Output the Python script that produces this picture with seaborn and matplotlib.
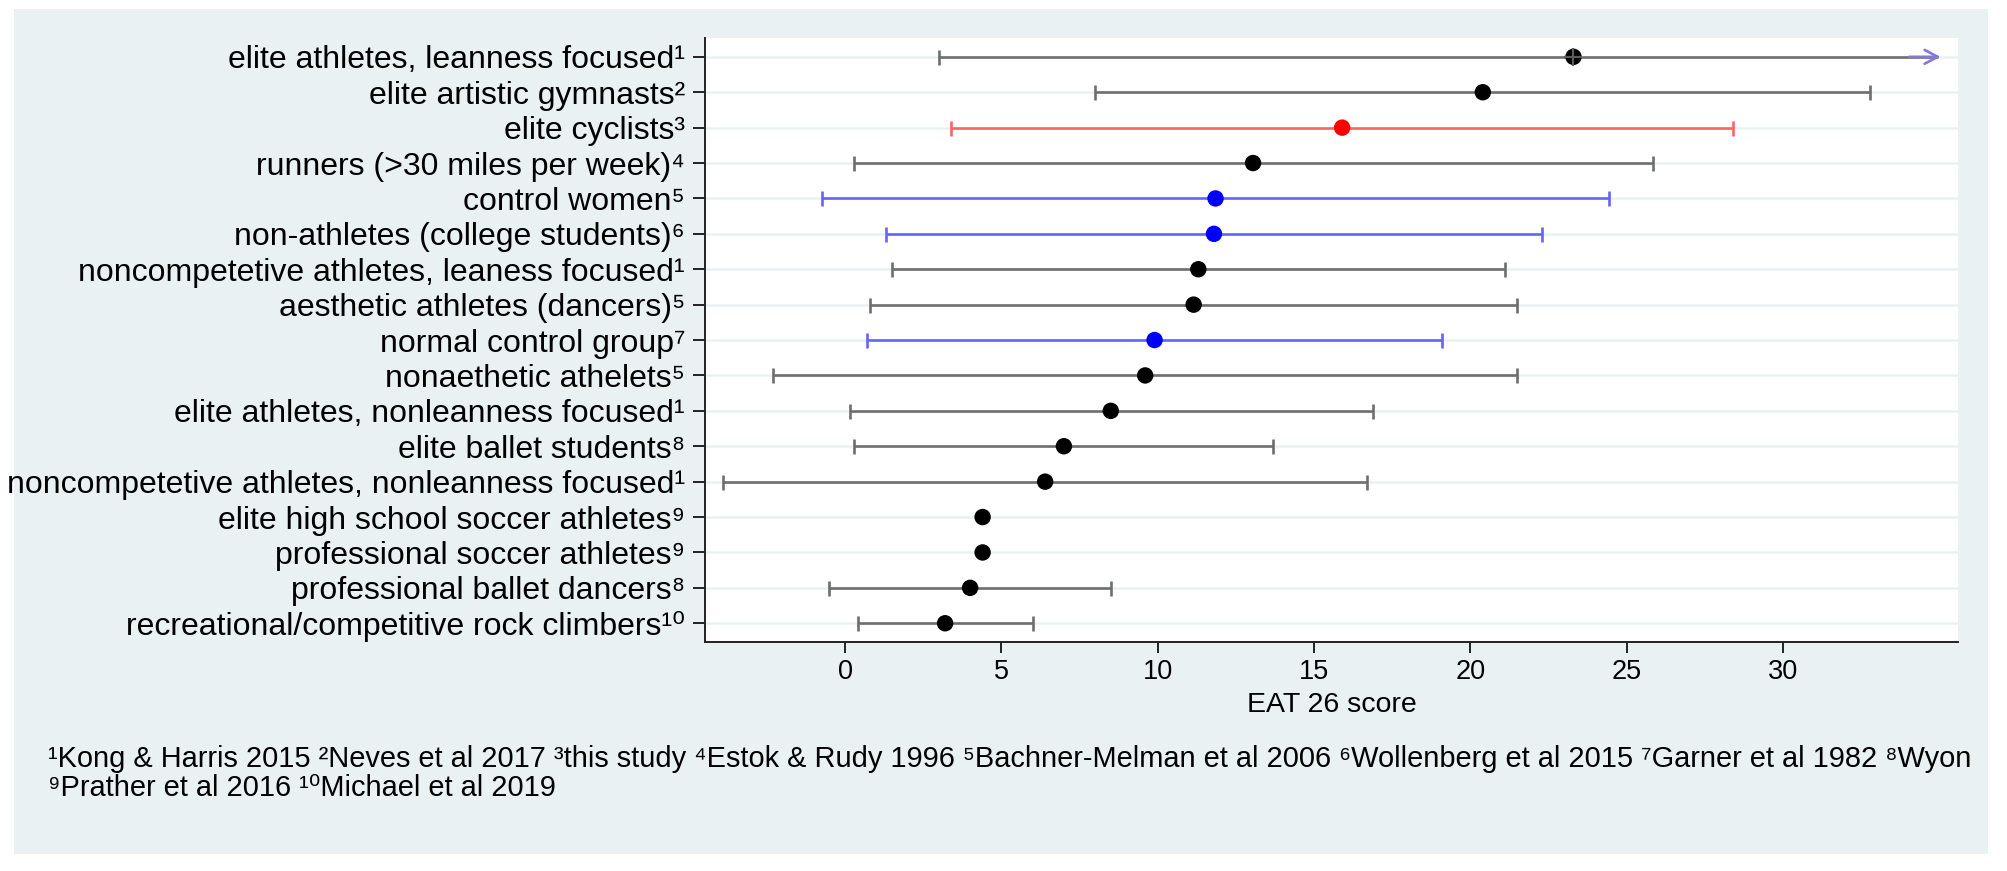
import numpy as np
import pandas as pd
import matplotlib.pyplot as plt
import matplotlib.patches as mpatches
import seaborn as sns

# Data (mean and the range drawn around it)
groups = ["elite athletes, leanness focused", "elite artistic gymnasts", "elite cyclists",
          "runners (>30 miles per week)", "control women", "non-athletes (college students)",
          "noncompetetive athletes, leaness focused", "aesthetic athletes (dancers)",
          "normal control group", "nonaethetic athelets", "elite athletes, nonleanness focused",
          "elite ballet students", "noncompetetive athletes, nonleanness focused",
          "elite high school soccer athletes", "professional soccer athletes",
          "professional ballet dancers", "recreational/competitive rock climbers"]
ref_ids = [1, 2, 3, 4, 5, 6, 1, 5, 7, 5, 1, 8, 1, 9, 9, 8, 10]
means = [23.3, 20.4, 15.9, 13.05, 11.85, 11.8, 11.3, 11.15, 9.9, 9.6, 8.5, 7.0, 6.4, 4.4, 4.4, 4.0, 3.2]
lower = [3.0, 8.0, 3.4, 0.28, -0.75, 1.3, 1.5, 0.8, 0.7, -2.3, 0.15, 0.3, -3.9, np.nan, np.nan, -0.5, 0.4]
upper = [43.6, 32.8, 28.4, 25.85, 24.45, 22.3, 21.1, 21.5, 19.1, 21.5, 16.9, 13.7, 16.7, np.nan, np.nan, 8.5, 6.0]
kind = ["athlete", "athlete", "study", "athlete", "control", "control", "athlete", "athlete",
        "control", "athlete", "athlete", "athlete", "athlete", "athlete", "athlete", "athlete", "athlete"]
sources = ["Kong & Harris 2015", "Neves et al 2017", "this study", "Estok & Rudy 1996",
           "Bachner-Melman et al 2006", "Wollenberg et al 2015", "Garner et al 1982", "Wyon",
           "Prather et al 2016", "Michael et al 2019"]
xticks = [0, 5, 10, 15, 20, 25, 30]

point_colors = {"athlete": "#000000", "study": "#ff0000", "control": "#0000ff"}
line_colors = {"athlete": "#6e6e6e", "study": "#ff6464", "control": "#6464ff"}
panel = "#eaf1f3"

sup = str.maketrans("0123456789", "⁰¹²³⁴⁵⁶⁷⁸⁹")

df = pd.DataFrame({"group": groups, "ref": ref_ids, "mean": means, "lo": lower, "hi": upper, "kind": kind})
df["row"] = np.arange(len(df))
df["label"] = df["group"] + df["ref"].astype(str).str.translate(sup)

sns.set_style("white")
plt.rcParams["font.family"] = ["Liberation Sans", "DejaVu Sans"]
plt.rcParams["text.color"] = "black"
plt.rcParams["axes.labelcolor"] = "black"
plt.rcParams["xtick.color"] = "black"
plt.rcParams["ytick.color"] = "black"

fig = plt.figure(figsize=(20.08, 8.71), dpi=100)
fig.patches.append(mpatches.Rectangle((0.007, 0.0195), 0.983, 0.970, transform=fig.transFigure,
                                      facecolor=panel, edgecolor="none", zorder=-5))
ax = fig.add_axes([0.3511, 0.2633, 0.6240, 0.6934], zorder=2)
ax.set_facecolor("white")

xmin, xmax = -4.48, 35.6
ax.set_xlim(xmin, xmax)
ax.set_ylim(16.52, -0.54)

lw = 1.9
# ranges (the one running off the axis gets an arrow)
clip_at = xmax - 0.56
for k in ["athlete", "study", "control"]:
    d = df[(df["kind"] == k) & df["lo"].notna() & (df["hi"] <= xmax)]
    ax.errorbar(d["mean"], d["row"], xerr=[d["mean"] - d["lo"], d["hi"] - d["mean"]],
                fmt="none", ecolor=line_colors[k], elinewidth=lw, capsize=5.4, capthick=lw, zorder=2)
    d = df[(df["kind"] == k) & (df["hi"] > xmax)]
    for _, r in d.iterrows():
        ax.plot([r["lo"], clip_at - 0.1], [r["row"], r["row"]], color=line_colors[k], lw=lw, zorder=2)
        ax.plot(r["lo"], r["row"], marker="|", ms=10.8, mew=lw, color=line_colors[k], zorder=2)
        ax.annotate("", xy=(clip_at, r["row"]), xytext=(clip_at - 1.0, r["row"]),
                    arrowprops=dict(arrowstyle="->,head_length=0.47,head_width=0.25", color="#8478d8",
                                    lw=lw, mutation_scale=20, shrinkA=0, shrinkB=0), zorder=3)

sns.scatterplot(data=df, x="mean", y="row", hue="kind", palette=point_colors, s=140,
                edgecolor="none", legend=False, ax=ax, zorder=4)
# crosshair drawn over the clipped point
d = df[df["hi"] > xmax]
ax.plot(d["mean"], d["row"], marker="+", ls="none", ms=13, mew=1.6, color="#5a5a5a", zorder=5)

ax.set_yticks(df["row"])
ax.set_yticklabels(df["label"], fontsize=23)
ax.set_xticks(xticks)
ax.set_xticklabels([str(t) for t in xticks], fontsize=19.5)
ax.tick_params(axis="y", length=8.6, width=1.4, pad=5.8, color="#222222", left=True)
ax.tick_params(axis="x", length=7.9, width=1.4, pad=4.7, color="#222222", bottom=True)

ax.grid(axis="y", color=panel, lw=1.8)
ax.grid(axis="x", visible=False)
ax.set_axisbelow(True)
for s in ["top", "right"]:
    ax.spines[s].set_visible(False)
for s in ["left", "bottom"]:
    ax.spines[s].set_color("#222222")
    ax.spines[s].set_linewidth(1.4)

ax.set_ylabel("")
ax.set_xlabel("EAT 26 score", fontsize=20.5)
ax.xaxis.label.set_va("center")
ax.xaxis.set_label_coords(0.5, -0.105)

notes = [str(i + 1).translate(sup) + s for i, s in enumerate(sources)]
fig.text(0.0239, 0.1288, " ".join(notes[:8]), fontsize=20.9, va="center", ha="left")
fig.text(0.0239, 0.0953, " ".join(notes[8:]), fontsize=20.9, va="center", ha="left")

fig.savefig("out.png", dpi=100)
